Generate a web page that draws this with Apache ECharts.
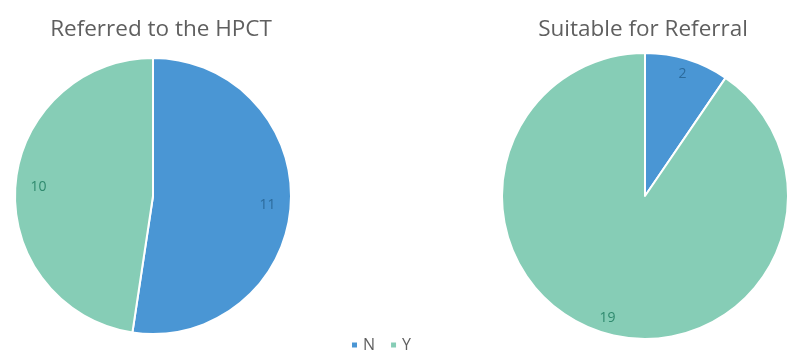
<!DOCTYPE html>
<html>
<head>
<meta charset="utf-8">
<script src="https://cdn.jsdelivr.net/npm/echarts@6/dist/echarts.min.js"></script>
<style>
  html, body { margin: 0; padding: 0; background: #ffffff; }
  #chart { width: 789px; height: 350px; }
</style>
</head>
<body>
<div id="chart"></div>
<script>
// Category names and counts for the two pies
const categories = ['N', 'Y'];
const referredValues = [11, 10];
const suitableValues = [2, 19];
const titles = ['Referred to the HPCT', 'Suitable for Referral'];

const colors = ['#4a96d4', '#86cdb6'];
const labelColors = ['#2c6b9c', '#2f8a6e'];
const fontFamily = '"Open Sans", "Lato", sans-serif';

function toData(values, withLabelColor) {
  return categories.map((name, i) => {
    const d = { name: name, value: values[i] };
    if (withLabelColor) d.label = { color: labelColors[i] };
    return d;
  });
}

// One visible pie plus a transparent twin, whose "inside" labels sit at
// half of its larger radius, i.e. near the outer edge of the visible pie.
function piePair(values, center, radius, labelFactor) {
  const visible = {
    type: 'pie',
    center: center,
    radius: [0, radius],
    startAngle: 90,
    clockwise: true,
    data: toData(values, false),
    itemStyle: { borderColor: '#ffffff', borderWidth: 2 },
    label: { show: false },
    labelLine: { show: false },
    emphasis: { disabled: true },
    animation: false
  };
  const labels = {
    type: 'pie',
    center: center,
    radius: [0, radius * labelFactor * 2],
    startAngle: 90,
    clockwise: true,
    silent: true,
    data: toData(values, true),
    itemStyle: { opacity: 0 },
    label: {
      show: true,
      position: 'inside',
      formatter: '{c}',
      fontFamily: fontFamily,
      fontSize: 14,
      opacity: 1
    },
    labelLine: { show: false },
    emphasis: { disabled: true },
    animation: false,
    z: 3
  };
  return [visible, labels];
}

const chart = echarts.init(document.getElementById('chart'));
chart.setOption({
  animation: false,
  color: colors,
  title: [
    {
      text: titles[0], left: 156, top: 13, textAlign: 'center',
      textStyle: { fontFamily: fontFamily, fontSize: 22.5, fontWeight: 'normal', color: '#5f5f5f' }
    },
    {
      text: titles[1], left: 638, top: 13, textAlign: 'center',
      textStyle: { fontFamily: fontFamily, fontSize: 22.5, fontWeight: 'normal', color: '#5f5f5f' }
    }
  ],
  legend: {
    data: categories,
    left: 345,
    top: 332,
    itemWidth: 7,
    itemHeight: 7,
    itemGap: 14,
    icon: 'rect',
    selectedMode: false,
    textStyle: { fontFamily: fontFamily, fontSize: 16, color: '#5f5f5f' }
  },
  series: [
    ...piePair(referredValues, [153, 196], 138, 0.81),
    ...piePair(suitableValues, [645, 196], 143, 0.87)
  ]
});
</script>
</body>
</html>
